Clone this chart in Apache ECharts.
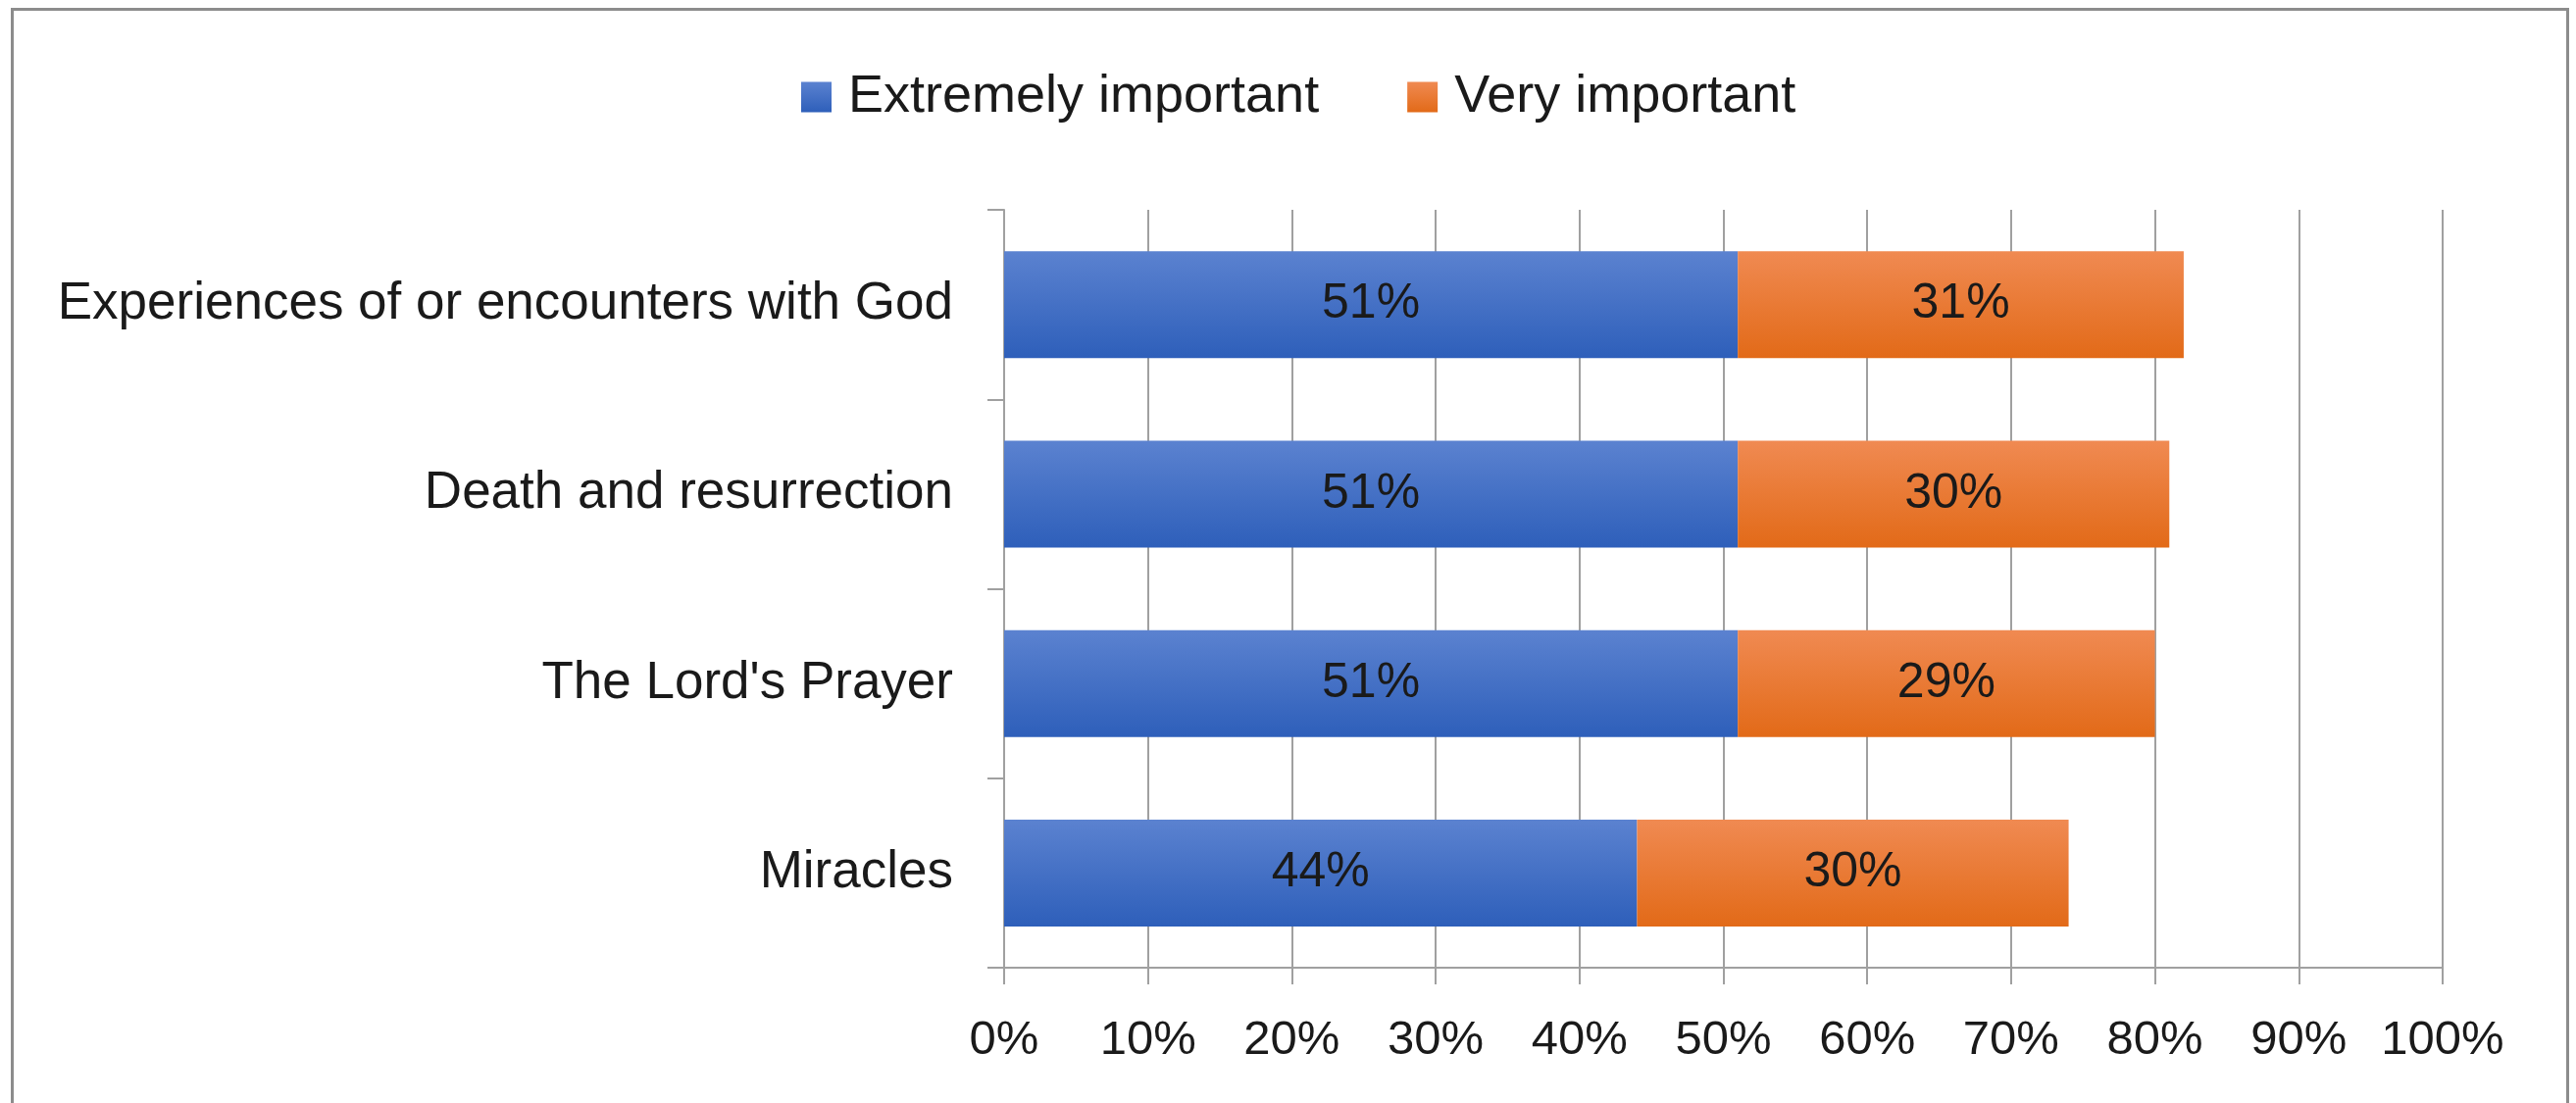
<!DOCTYPE html>
<html style="height: 100%">
<head>
    <meta charset="utf-8">
    <title>Importance chart</title>
</head>
<body style="height: 100%; margin: 0; background: #fff">
    <div id="main" style="width: 2627px; height: 1125px;"></div>

    <script src="https://cdn.jsdelivr.net/npm/echarts@6/dist/echarts.min.js"></script>

    <script type="text/javascript">
    var categories = ['Experiences of or encounters with God', 'Death and resurrection', "The Lord's Prayer", 'Miracles'];
    var extremely = [51, 51, 51, 44];
    var very = [31, 30, 29, 30];
    var seriesNames = ['Extremely important', 'Very important'];

    var font = 'Liberation Sans';
    var gridColor = '#a0a0a0';

    function grad(top, bottom) {
        return new echarts.graphic.LinearGradient(0, 0, 0, 1, [
            { offset: 0, color: top },
            { offset: 1, color: bottom }
        ]);
    }

    var myChart = echarts.init(document.getElementById('main'));

    var option = {
        backgroundColor: '#ffffff',
        animation: false,
        graphic: [{
            type: 'rect',
            shape: { x: 12.5, y: 9.5, width: 2606, height: 1130 },
            style: { fill: 'none', stroke: '#8c8c8c', lineWidth: 3 },
            silent: true
        }],
        legend: {
            left: 812,
            top: 67,
            itemWidth: 31,
            itemHeight: 31,
            itemGap: 90,
            icon: 'rect',
            textStyle: {
                fontFamily: font,
                fontSize: 54,
                color: '#1a1a1a',
                padding: [0, 0, 0, 12]
            },
            data: seriesNames
        },
        grid: {
            left: 1024,
            right: 136,
            top: 214,
            bottom: 138,
            containLabel: false
        },
        xAxis: {
            type: 'value',
            min: 0,
            max: 100,
            interval: 10,
            axisLine: { show: true, lineStyle: { color: gridColor, width: 2 } },
            axisTick: { show: true, length: 17, lineStyle: { color: gridColor, width: 2 } },
            splitLine: { show: true, lineStyle: { color: gridColor, width: 2 } },
            axisLabel: {
                formatter: '{value}%',
                fontFamily: font,
                fontSize: 49,
                color: '#1a1a1a',
                margin: 50
            }
        },
        yAxis: {
            type: 'category',
            inverse: true,
            data: categories,
            axisLine: { show: true, lineStyle: { color: gridColor, width: 2 } },
            axisTick: { show: true, length: 17, lineStyle: { color: gridColor, width: 2 } },
            axisLabel: {
                fontFamily: font,
                fontSize: 53,
                color: '#1a1a1a',
                margin: 52
            }
        },
        series: [
            {
                name: seriesNames[0],
                type: 'bar',
                stack: 'total',
                barWidth: 109,
                data: extremely,
                itemStyle: { color: grad('#5b82d0', '#2e5fba') },
                label: {
                    show: true,
                    position: 'inside',
                    formatter: '{c}%',
                    fontFamily: font,
                    fontSize: 50,
                    color: '#1a1a1a'
                }
            },
            {
                name: seriesNames[1],
                type: 'bar',
                stack: 'total',
                barWidth: 109,
                data: very,
                itemStyle: { color: grad('#f08a52', '#e26a18') },
                label: {
                    show: true,
                    position: 'inside',
                    formatter: '{c}%',
                    fontFamily: font,
                    fontSize: 50,
                    color: '#1a1a1a'
                }
            }
        ]
    };

    myChart.setOption(option);
    </script>
</body>
</html>
